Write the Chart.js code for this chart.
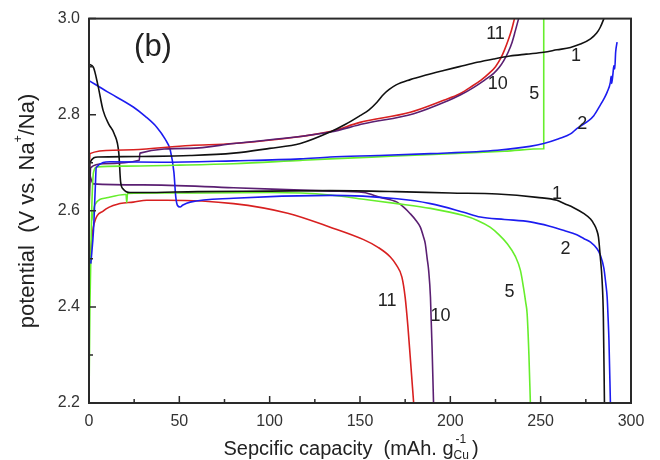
<!DOCTYPE html>
<html>
<head>
<meta charset="utf-8">
<script src="https://cdn.jsdelivr.net/npm/chart.js@4/dist/chart.umd.min.js"></script>
<style>html,body{margin:0;padding:0;background:#fff}</style>
</head>
<body>
<canvas id="c" width="660" height="460" style="width:660px;height:460px"></canvas>
<script>
// cycle 1 (black)
var cap1Dis = [0, 2.4, 5, 7.8, 11, 14, 16.5, 17.5, 19, 22.7, 30, 60, 100, 133.5, 170, 200, 226, 248, 259, 263, 268, 274, 277.6, 279.4, 281, 282, 283, 284, 284.7, 285.3];
var pot1Dis = [2.905, 2.899, 2.86, 2.809, 2.78, 2.76, 2.72, 2.66, 2.645, 2.638, 2.638, 2.64, 2.641, 2.642, 2.64, 2.637, 2.635, 2.628, 2.622, 2.615, 2.607, 2.594, 2.583, 2.573, 2.56, 2.545, 2.504, 2.455, 2.38, 2.2];
var cap1Chg = [0, 0.5, 5, 28, 56, 80, 100, 117, 133.5, 142, 150, 155, 159.4, 163, 166, 170, 177.8, 186, 196.3, 205, 214.8, 224, 233, 242, 251.7, 259, 266.5, 272, 277.6, 281, 283, 285];
var pot1Chg = [2.6, 2.7, 2.712, 2.713, 2.715, 2.72, 2.73, 2.74, 2.764, 2.78, 2.798, 2.81, 2.826, 2.842, 2.852, 2.862, 2.873, 2.882, 2.892, 2.9, 2.909, 2.916, 2.922, 2.926, 2.93, 2.935, 2.94, 2.947, 2.958, 2.97, 2.982, 3.0];
// cycle 2 (blue)
var cap2Dis = [0, 10, 24.5, 31, 37.5, 42, 45, 47, 48, 49, 50.4, 52, 56, 80, 133.5, 170.5, 189, 207.4, 216.6, 230, 244.3, 255, 263, 270, 274, 277.6, 281, 283, 285, 286, 286.8, 287.4, 287.8, 288.6];
var pot2Dis = [2.871, 2.848, 2.816, 2.797, 2.774, 2.75, 2.726, 2.68, 2.63, 2.611, 2.608, 2.612, 2.618, 2.626, 2.632, 2.625, 2.615, 2.597, 2.587, 2.582, 2.577, 2.568, 2.559, 2.55, 2.542, 2.535, 2.522, 2.508, 2.48, 2.45, 2.42, 2.37, 2.33, 2.2];
var cap2Chg = [1, 2.5, 3.5, 4, 11.6, 40, 80, 117, 133.5, 160, 189, 226, 244, 251.7, 260, 266.5, 270, 276, 279.4, 283, 285, 286.8, 288.6, 289, 289.3, 290, 290.5, 291, 291.5, 292.3];
var pot2Chg = [2.49, 2.56, 2.65, 2.69, 2.702, 2.701, 2.704, 2.708, 2.712, 2.715, 2.719, 2.726, 2.734, 2.74, 2.75, 2.76, 2.771, 2.786, 2.798, 2.82, 2.833, 2.847, 2.868, 2.88, 2.865, 2.885, 2.902, 2.895, 2.93, 2.951];
// cycle 5 (green)
var cap5Dis = [1.5, 3.3, 9.8, 20, 20.5, 20.9, 21.3, 40, 61.5, 100, 133.5, 152, 170.5, 189, 207.4, 215, 222, 227, 231.4, 236, 238.8, 240.5, 241.7, 242.5, 243.5, 244.3];
var pot5Dis = [2.58, 2.613, 2.627, 2.634, 2.634, 2.617, 2.636, 2.637, 2.637, 2.638, 2.633, 2.624, 2.615, 2.605, 2.59, 2.58, 2.566, 2.55, 2.532, 2.505, 2.476, 2.44, 2.41, 2.386, 2.3, 2.2];
var cap5Chg = [0, 0.5, 1.5, 2.5, 4.3, 20, 50, 80, 117, 133.5, 170, 200, 230, 251.7, 251.7];
var pot5Chg = [2.2, 2.4, 2.6, 2.68, 2.691, 2.693, 2.695, 2.698, 2.705, 2.708, 2.714, 2.719, 2.724, 2.729, 3.0];
// cycle 10 (purple)
var cap10Dis = [0, 2.4, 30, 80, 133.5, 152, 161, 170.5, 174, 177.8, 181, 183.4, 185.2, 186.1, 187.2, 188, 189, 190, 190.7];
var pot10Dis = [2.68, 2.656, 2.654, 2.648, 2.641, 2.638, 2.628, 2.618, 2.608, 2.594, 2.58, 2.566, 2.545, 2.532, 2.5, 2.476, 2.42, 2.3, 2.2];
var cap10Chg = [0, 1, 8, 27.8, 28.2, 56, 80, 133.5, 152, 179.7, 198, 206, 213, 219, 224, 227, 229.5, 232, 234.2, 236, 237.8];
var pot10Chg = [2.6, 2.69, 2.698, 2.705, 2.72, 2.73, 2.74, 2.764, 2.781, 2.802, 2.828, 2.842, 2.857, 2.872, 2.886, 2.898, 2.912, 2.93, 2.951, 2.975, 3.0];
// cycle 11 (red)
var cap11Dis = [0.5, 2.4, 8, 17.2, 24.5, 32, 43, 80, 110, 133.5, 152, 160, 166.8, 170, 173.2, 175, 176.5, 177.8, 179.7];
var pot11Dis = [2.5, 2.566, 2.6, 2.615, 2.618, 2.622, 2.622, 2.615, 2.595, 2.566, 2.54, 2.524, 2.504, 2.488, 2.462, 2.42, 2.36, 2.296, 2.2];
var cap11Chg = [0, 0.5, 13.5, 24.5, 56, 80, 133.5, 150, 177.8, 196.3, 205, 211, 217, 222, 225, 227.7, 230, 232.3, 234, 235.5];
var pot11Chg = [2.62, 2.719, 2.726, 2.727, 2.736, 2.74, 2.765, 2.784, 2.805, 2.83, 2.843, 2.857, 2.872, 2.888, 2.9, 2.916, 2.935, 2.958, 2.978, 3.0];

var xTicks = [0, 50, 100, 150, 200, 250, 300];
var yTicks = [2.2, 2.4, 2.6, 2.8, 3.0];

// cycle number labels beside the curves
var labelText = ['11', '10', '5', '1', '2', '1', '2', '5', '10', '11'];
var labelCap = [225, 226.2, 246.5, 269.6, 273, 259, 263.7, 232.7, 194.5, 165];
var labelPot = [2.967, 2.864, 2.843, 2.922, 2.781, 2.635, 2.52, 2.43, 2.381, 2.412];

function pts(xs, ys) {
    return xs.map(function (x, i) { return { x: x, y: ys[i] }; });
}
function line(xs, ys, color) {
    return { data: pts(xs, ys), borderColor: color, borderWidth: 1.6, pointRadius: 0, showLine: true,
        cubicInterpolationMode: 'monotone', fill: false };
}

var BLACK = '#111111', BLUE = '#1c1cf0', GREEN = '#66ee2c', PURPLE = '#5a1f72', RED = '#d82020';
var FONT = '"Liberation Sans", Arial, sans-serif';

var decor = {
    id: 'decor',
    afterDatasetsDraw: function (chart) {
        var ctx = chart.ctx, a = chart.chartArea, xs = chart.scales.x, ys = chart.scales.y;
        var v, px, py, len;
        ctx.save();
        ctx.strokeStyle = '#2a2a2a';
        ctx.lineWidth = 2;
        ctx.strokeRect(a.left, a.top, a.right - a.left, a.bottom - a.top);
        ctx.lineWidth = 1.5;
        ctx.beginPath();
        for (v = 0; v <= 300; v += 25) {
            px = xs.getPixelForValue(v);
            len = v % 50 === 0 ? 7 : 4;
            ctx.moveTo(px, a.bottom);
            ctx.lineTo(px, a.bottom - len);
        }
        for (v = 22; v <= 30; v += 1) {
            py = ys.getPixelForValue(v / 10);
            len = v % 2 === 0 ? 7 : 4;
            ctx.moveTo(a.left, py);
            ctx.lineTo(a.left + len, py);
        }
        ctx.stroke();

        ctx.fillStyle = '#222';
        ctx.textAlign = 'center';
        ctx.textBaseline = 'middle';
        ctx.font = '18px ' + FONT;
        labelText.forEach(function (t, i) {
            ctx.fillText(t, xs.getPixelForValue(labelCap[i]), ys.getPixelForValue(labelPot[i]));
        });
        ctx.font = '31px ' + FONT;
        ctx.fillText('(b)', 153, 47);

        // x axis title with sub/superscript
        ctx.textBaseline = 'alphabetic';
        ctx.textAlign = 'left';
        var big = '20px ' + FONT, small = '12px ' + FONT;
        var s1 = 'Sepcific capacity  (mAh. g', s2 = 'Cu', s3 = '-1', s4 = ')';
        ctx.font = big; var w1 = ctx.measureText(s1).width, w4 = ctx.measureText(s4).width;
        ctx.font = small; var w2 = ctx.measureText(s2).width, w3 = ctx.measureText(s3).width;
        var x0 = 351 - (w1 + Math.max(w2, w3) + w4 + 3) / 2, base = 455;
        ctx.font = big; ctx.fillText(s1, x0, base);
        ctx.font = small; ctx.fillText(s2, x0 + w1, base + 4); ctx.fillText(s3, x0 + w1 + 2, base - 12);
        ctx.font = big; ctx.fillText(s4, x0 + w1 + Math.max(w2, w3) + 3, base);

        // y axis title, rotated
        var bigY = '22px ' + FONT;
        ctx.translate(34, 211);
        ctx.rotate(-Math.PI / 2);
        var t1 = 'potential  (V vs. Na', t2 = '+', t3 = '/Na)';
        ctx.font = bigY; var u1 = ctx.measureText(t1).width, u3 = ctx.measureText(t3).width;
        ctx.font = small; var u2 = ctx.measureText(t2).width;
        var y0 = -(u1 + u2 + u3) / 2;
        ctx.font = bigY; ctx.fillText(t1, y0, 0);
        ctx.font = small; ctx.fillText(t2, y0 + u1, -12);
        ctx.font = bigY; ctx.fillText(t3, y0 + u1 + u2, 0);
        ctx.restore();
    }
};

new Chart(document.getElementById('c').getContext('2d'), {
    type: 'scatter',
    data: {
        datasets: [
            line(cap1Chg, pot1Chg, BLACK),
            line(cap2Chg, pot2Chg, BLUE),
            line(cap5Chg, pot5Chg, GREEN),
            line(cap10Chg, pot10Chg, PURPLE),
            line(cap11Chg, pot11Chg, RED),
            line(cap1Dis, pot1Dis, BLACK),
            line(cap2Dis, pot2Dis, BLUE),
            line(cap5Dis, pot5Dis, GREEN),
            line(cap10Dis, pot10Dis, PURPLE),
            line(cap11Dis, pot11Dis, RED)
        ]
    },
    options: {
        responsive: false,
        animation: false,
        layout: { padding: { left: 0, top: 18, right: 29, bottom: 0 } },
        plugins: { legend: { display: false }, tooltip: { enabled: false } },
        scales: {
            x: {
                type: 'linear', min: 0, max: 300,
                afterBuildTicks: function (s) { s.ticks = xTicks.map(function (v) { return { value: v }; }); },
                afterFit: function (s) { s.height = 57; },
                grid: { display: false, drawTicks: false },
                border: { display: false },
                ticks: { color: '#333', font: { size: 16, family: FONT }, padding: 9, maxRotation: 0 }
            },
            y: {
                min: 2.2, max: 3.0,
                afterBuildTicks: function (s) { s.ticks = yTicks.map(function (v) { return { value: v }; }); },
                afterFit: function (s) { s.width = 89; },
                grid: { display: false, drawTicks: false },
                border: { display: false },
                ticks: { color: '#333', font: { size: 16, family: FONT }, padding: 9,
                    callback: function (v) { return v.toFixed(1); } }
            }
        }
    },
    plugins: [decor]
});
</script>
</body>
</html>
